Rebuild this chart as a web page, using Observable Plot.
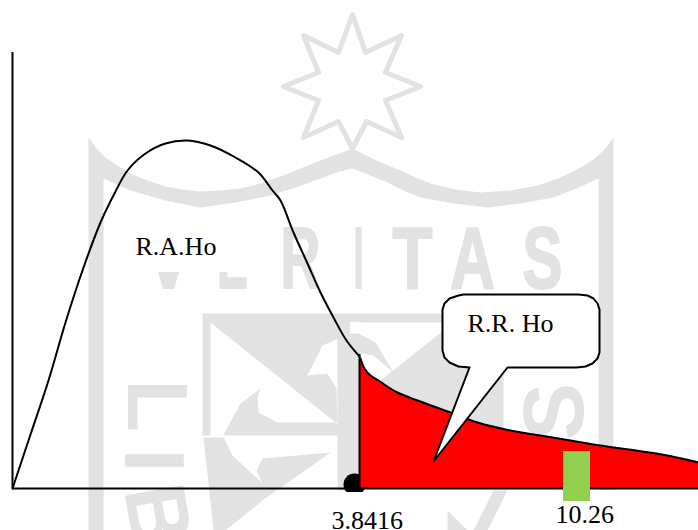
<!DOCTYPE html>
<html><head><meta charset="utf-8">
<style>html,body{margin:0;padding:0;background:#fff}svg{display:block;background:#fff}</style>
<script src="https://cdn.jsdelivr.net/npm/d3@7"></script>
<script src="https://cdn.jsdelivr.net/npm/@observablehq/plot@0.6"></script>
</head><body><div id="chart"></div>
<script>
// Curves (picture units)
const acceptX = [12,30,48,65,82,100,114,127,145,165,187,210,235,258,272,280,293,307,320,333,346,359];
const acceptY = [488,434,380,322,270,222,193,170,153,143,140,145,157,172,190,200,232,263,292,317,340,356];
const rejectX = [360,364,370,378,395,417,450,477,510,540,570,600,635,667,698];
const rejectY = [358,368,375,380,391,400,412,422,430,435,440,445,450,455,462];
const baseY = 488;
const axisTopY = 52;
const originX = 12;
const rightX = 698;
const criticalX = 359;
const criticalTopY = 354;

const calloutX = [469,458,449,444,442,442,444,449,458,463,578,587,593,597,599,599,597,592,585,576,507,433];
const calloutY = [367,366,362,357,350,309,303,298,295,294,294,295,298,303,309,352,358,363,366,367,367,461];

const labelText = ["R.A.Ho","R.R. Ho","3.8416","10.26"];
const labelX = [135,467,331,555];
const labelY = [254,331,528,522];

// Watermark outlines
const starX = [352,365,401,385,420,385,401,366,352,338,303,318,283,318,303,338];
const starY = [14,52,35,72,86,100,137,121,148,121,137,100,86,72,35,52];
const shieldX = [88,96,105,117,130,147,165,182,200,220,240,260,280,300,320,336,352,376,400,415,430,455,480,510,537,560,580,593,603,613,613,598,598,576,553,520,487,453,420,403,387,370,352,336,320,295,270,235,200,165,130,116,103,103,88];
const shieldY = [137,148,157,165,173,180,186,189,191,190,188,183,176,168,160,154,148,160,170,177,183,189,192,190,185,177,167,159,150,137,492,492,178,188,197,203,207,203,197,190,182,175,168,172,178,187,195,202,207,200,190,184,178,530,530];
const upperX = [202,503,503,350,345,322,307,327,336,337,335,210,210,202];
const upperY = [313,313,322,322,335,345,375,373,388,422,422,322,435,435];
const crescentX = [260,240,228,223,347,335,277,258,257];
const crescentY = [388,403,425,435,435,422,422,412,397];
const lowerX = [203,223,232,262,256,262,330,262,225,213];
const lowerY = [437,437,455,483,470,458,452,500,530,530];
const rightPartX = [380,443,503,503,380];
const rightPartY = [380,330,322,445,445];
const fleurX = [345,358,375,393,373,352];
const fleurY = [333,333,342,372,355,352];
const stemX = [337,360,360,337];
const stemY = [322,322,490,490];
const tailX = [493,507,487,473];
const tailY = [490,490,530,530];
const wedgeX = [447,467,447];
const wedgeY = [510,530,530];
const crestLetters = ["V","E","R","I","T","A","S"];
const crestX = [168,232,300,358,412,472,542];
const crestY = [292,292,292,292,292,292,292];
const crestWidth = [46,31,40,10,40,45,40];
const sideLetters = ["L","I","B","S"];
const sideX = [155,152,156,555];
const sideY = [405,460,515,411];
const sideRotate = [90,90,80,-90];

const pts = (xs, ys) => xs.map((x, i) => ({x, y: ys[i]}));
const gray = "#e2e2e2";
const poly = (xs, ys) => Plot.line(pts(xs, ys), {x: "x", y: "y", curve: "linear-closed", fill: gray, stroke: "none"});
const blocks = (a) => Plot.rect([a], {x1: "x1", x2: "x2", y1: "y1", y2: "y2", fill: "#fff"});

const plot = Plot.plot({
  width: 698, height: 530,
  marginTop: 0, marginRight: 0, marginBottom: 0, marginLeft: 0,
  x: {domain: [0, 698], range: [0, 698], axis: null},
  y: {domain: [0, 530], range: [0, 530], axis: null},
  marks: [
    Plot.line(pts(starX, starY), {x: "x", y: "y", curve: "linear-closed", stroke: gray, strokeWidth: 5, fill: "none"}),
    poly(shieldX, shieldY), poly(upperX, upperY), poly(lowerX, lowerY), poly(rightPartX, rightPartY),
    poly(stemX, stemY), poly(tailX, tailY), poly(wedgeX, wedgeY),
    blocks({x1: 350, x2: 362, y1: 322, y2: 345}),
    poly(fleurX, fleurY), poly(crescentX, crescentY),
    Plot.text(crestLetters, {x: (d, i) => crestX[i], y: (d, i) => crestY[i], text: d => d, lineAnchor: "bottom", dy: -5,
      className: "crest",
      fontFamily: "Liberation Sans Narrow, Liberation Sans", fontWeight: "bold", fontSize: 88, fill: gray, stroke: gray, strokeWidth: 2}),
    Plot.text(sideLetters, {x: (d, i) => sideX[i], y: (d, i) => sideY[i], text: d => d, rotate: (d, i) => sideRotate[i],
      fontFamily: "Liberation Sans Narrow, Liberation Sans", fontWeight: "bold", fontSize: 86, fill: gray}),
    blocks({x1: 120, x2: 262, y1: 222, y2: 272}),
    blocks({x1: 330, x2: 447, y1: 492, y2: 530}),
    blocks({x1: 533, x2: 698, y1: 490, y2: 530}),
    Plot.dot([{x: 354, y: 484}], {x: "x", y: "y", r: 11, fill: "#000"}),
    blocks({x1: 330, x2: 447, y1: 492, y2: 530}),
    Plot.areaY(pts(rejectX, rejectY), {x: "x", y1: baseY, y2: "y", curve: "catmull-rom", fill: "#ff0000"}),
    Plot.line(pts(rejectX, rejectY), {x: "x", y: "y", curve: "catmull-rom", stroke: "#000", strokeWidth: 2}),
    Plot.line(pts(acceptX, acceptY), {x: "x", y: "y", curve: "catmull-rom", stroke: "#000", strokeWidth: 2}),
    Plot.ruleX([originX], {y1: axisTopY, y2: baseY, stroke: "#000", strokeWidth: 2}),
    Plot.ruleX([criticalX], {y1: criticalTopY, y2: baseY, stroke: "#000", strokeWidth: 2}),
    Plot.ruleY([baseY], {x1: originX, x2: rightX, stroke: "#000", strokeWidth: 2}),
    Plot.rect([{x1: 563, x2: 590, y1: 451, y2: 501}], {x1: "x1", x2: "x2", y1: "y1", y2: "y2", fill: "#92d050"}),
    Plot.line(pts(calloutX, calloutY), {x: "x", y: "y", curve: "linear-closed", fill: "#fff", stroke: "#000", strokeWidth: 2}),
    Plot.text(labelText, {x: (d, i) => labelX[i], y: (d, i) => labelY[i], text: d => d, textAnchor: "start", lineAnchor: "bottom", dy: 0,
      fontFamily: "Liberation Serif", fontSize: 26, fill: "#000"})
  ]
});
d3.select(plot).selectAll(".crest text").each(function(d, i) {
  this.setAttribute("textLength", crestWidth[i]);
  this.setAttribute("lengthAdjust", "spacingAndGlyphs");
});
document.getElementById("chart").append(plot);
</script></body></html>
